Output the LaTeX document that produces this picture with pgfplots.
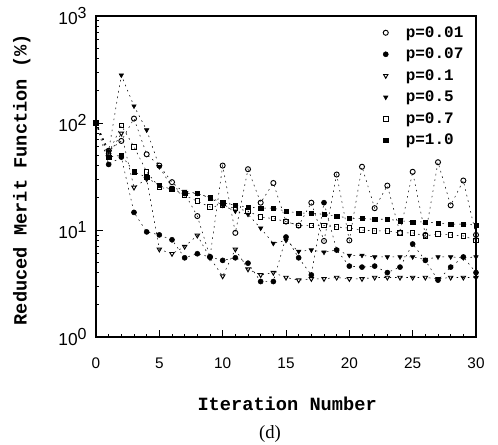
\documentclass[border=0pt]{standalone}
\usepackage{pgfplots}
\pgfplotsset{compat=1.18}
\usepackage{pgfplotstable}
\usepackage{fontspec}
\setmainfont{Liberation Sans}
\newfontfamily\labfont{Liberation Mono}
\newfontfamily\serfont{Liberation Serif}

\pgfplotstableread{
it  a    b    c    d    e    f
0   100  100  100  100  100  100
1   55   41   50   55   52   48
2   68   48   80   280  95   50
3   110  14.6 25   144  60   35
4   51   9.6  30   86   35   31
5   40   9    6.6  39   25   26
6   28   8.1  6    25   24   24
7   22   5.5  7    23   21   22
8   13.5 6    8.9  22   18.6 22
9   5.6  5.6  5.5  20   16.4 20
10  40   5.2  3.7  17   17   18
11  9.4  5.5  6.6  15   16   17
12  37   4.9  4.3  14   15   16.4
13  18   3.3  3.8  10.4 13.2 16
14  27.5 3.3  4.0  7.5  12.8 16
15  12   8.6  3.6  8    12   15
16  11   5.5  3.4  6.3  11   14.4
17  18   3.8  3.5  6.5  11   14.4
18  7.9  18   3.5  6.2  11   14
19  33   6.5  3.6  6.5  10.7 13.5
20  8    4.6  3.5  5.8  10.4 12.9
21  39   4.5  3.5  5.8  10   12.8
22  16   4.6  3.6  5.6  9.8  12.6
23  26   4.0  3.6  5.6  9.8  12.6
24  9.4  4.5  3.6  5.6  9.4  12.2
25  35   7.4  3.6  5.6  9.4  11.9
26  9    5.2  3.6  5.3  8.8  11.9
27  43   3.4  3.5  5.6  9.2  11.6
28  17   4.5  3.6  5.6  9.0  11.3
29  29   5.6  3.6  5.5  8.8  11.4
30  9    4.0  3.6  5.6  8.0  11.1
}\data

\begin{document}
\begin{tikzpicture}
\useasboundingbox (-72pt,-80.25pt) rectangle (301.5pt,252.75pt);
\begin{axis}[
  scale only axis,
  clip mode=individual,
  width=285pt, height=240.75pt,
  ymode=log,
  xmin=0, xmax=30, ymin=1, ymax=1000,
  xtick={0,5,...,30},
  minor x tick num=4,
  ytick={1,10,100,1000},
  yticklabels={10\textsuperscript{\large 0},10\textsuperscript{\large 1},10\textsuperscript{\large 2},10\textsuperscript{\large 3}},
  tick pos=left,
  tick align=inside,
  major tick length=5pt,
  minor tick length=2.5pt,
  axis line style={line width=1pt},
  every tick/.style={black, line width=0.6pt},
  /pgf/number format/assume math mode=true,
  tick label style={font=\fontsize{11.5}{13}\selectfont},
  xticklabel style={yshift=-12pt},
  yticklabel style={xshift=-3pt, font=\fontsize{13}{15}\selectfont},
  xlabel={\labfont\bfseries Iteration Number},
  ylabel={\labfont\bfseries Reduced Merit Function (\%)},
  xlabel style={at={(axis description cs:0.503,-0.2087)}, anchor=center, font=\fontsize{14}{16}\selectfont},
  ylabel style={at={(axis description cs:-0.195,0.49)}, anchor=center, font=\fontsize{14}{16}\selectfont},
  legend style={at={(axis description cs:0.985,0.985)}, anchor=north east, draw=none, fill=none,
    font=\labfont\bfseries\fontsize{12}{13}\selectfont, row sep=2.6pt},
  legend cell align=left,
  legend image code/.code={\path (0cm,0cm) (0.6cm,0cm); \draw[#1,only marks] plot coordinates {(0.15cm,0cm)};},
  every axis plot/.append style={black, line width=0.4pt, dash pattern=on 1.2pt off 3pt, mark size=1.9pt},
]
\addplot[mark=o, mark options={solid, line width=0.7pt}] table[x=it,y=a] {\data};
\addlegendentry{p=0.01}
\addplot[mark=*, mark options={solid}] table[x=it,y=b] {\data};
\addlegendentry{p=0.07}
\addplot[mark=triangle, mark options={solid, rotate=180, line width=0.7pt}] table[x=it,y=c] {\data};
\addlegendentry{p=0.1}
\addplot[mark=triangle*, mark options={solid, rotate=180}] table[x=it,y=d] {\data};
\addlegendentry{p=0.5}
\addplot[mark=square, mark options={solid, line width=0.7pt}, mark size=1.7pt] table[x=it,y=e] {\data};
\addlegendentry{p=0.7}
\addplot[mark=square*, mark options={solid}, mark size=1.6pt] table[x=it,y=f] {\data};
\addlegendentry{p=1.0}
\node[font=\serfont\fontsize{14}{16}\selectfont] at (axis description cs:0.458,-0.302) {(d)};
\end{axis}
\end{tikzpicture}
\end{document}
